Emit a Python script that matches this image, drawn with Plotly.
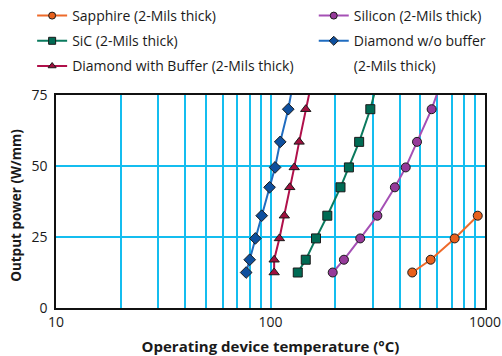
import plotly.graph_objects as go

power = [12.5, 17, 24.5, 32.5, 42.5, 49.5, 58.5, 70, 80]
sapphire_power = [12.5, 17, 24.5, 32.5]

temp_sapphire = [458, 558, 722, 925]
temp_silicon = [195, 220, 262, 315, 380, 427, 482, 564, 628]
temp_sic = [134, 146, 163, 184, 212, 232, 259, 292, 316]
temp_diamond_wo = [77, 80, 85, 91, 99, 105, 111, 121, 128]
temp_diamond_buf = [104, 104, 110, 116, 123, 129, 136, 146, 156]

names = {
    "sapphire": "Sapphire (2-Mils thick)",
    "silicon": "Silicon (2-Mils thick)",
    "sic": "SiC (2-Mils thick)",
    "dwo": "Diamond w/o buffer",
    "dwo2": "(2-Mils thick)",
    "dbuf": "Diamond with Buffer (2-Mils thick)",
}

FONT = "Open Sans"
GRID = "#14BDEF"

fig = go.Figure()

def add(x, y, name, line_color, marker_color, symbol, legend, group):
    # data trace
    fig.add_trace(go.Scatter(
        x=x, y=y, name=name, mode="lines+markers",
        line=dict(color=line_color, width=2),
        marker=dict(color=marker_color, symbol=symbol, size=9,
                    line=dict(color="#1a1a1a", width=1)),
        showlegend=False, legendgroup=group,
    ))
    # legend entry (smaller symbol, as in the reference key)
    fig.add_trace(go.Scatter(
        x=[None], y=[None], name=name, mode="lines+markers",
        line=dict(color=line_color, width=2),
        marker=dict(color=marker_color, symbol=symbol, size=7,
                    line=dict(color="#1a1a1a", width=1)),
        legend=legend, legendgroup=group, hoverinfo="skip",
    ))

add(temp_sapphire, sapphire_power, names["sapphire"], "#EE6A2A", "#E8601C", "circle", "legend", "a")
add(temp_sic, power, names["sic"], "#0A7A5E", "#006B54", "square", "legend", "b")
add(temp_diamond_buf, power, names["dbuf"], "#B0104A", "#A0103E", "triangle-up", "legend", "c")
add(temp_silicon, power, names["silicon"], "#A550B5", "#963A9A", "circle", "legend2", "d")
add(temp_diamond_wo, power, names["dwo"], "#1F6CC0", "#0E4F9E", "diamond", "legend2", "e")
# continuation line of the wrapped legend label (no visible symbol)
fig.add_trace(go.Scatter(x=[None], y=[None], name=names["dwo2"], mode="lines",
                         line=dict(color="rgba(0,0,0,0)", width=0),
                         legend="legend2", legendgroup="e2", hoverinfo="skip"))

leg_common = dict(xref="container", yref="container", y=1.0,
                  xanchor="left", yanchor="top", tracegroupgap=4,
                  itemsizing="trace", font=dict(size=14),
                  bgcolor="rgba(0,0,0,0)")

fig.update_layout(
    width=502, height=356,
    margin=dict(l=56, r=17, t=95, b=48, autoexpand=False),
    paper_bgcolor="white", plot_bgcolor="white",
    font=dict(family=FONT, size=14, color="#1a1a1a"),
    showlegend=True,
    legend=dict(x=0.064, **leg_common),
    legend2=dict(x=0.625, **leg_common),
    annotations=[dict(text="<b>Output power (W/mm)</b>", xref="paper", yref="paper",
                      x=-0.093, y=0.48, xanchor="center", yanchor="middle",
                      textangle=-90, showarrow=False, font=dict(size=13.5))],
)

fig.update_xaxes(
    type="log", range=[1, 3],
    tickvals=[10, 100, 1000], ticktext=["10", "100", "1000"],
    showgrid=True, gridcolor=GRID, gridwidth=1.7,
    minor=dict(tickvals=[20, 30, 40, 50, 60, 70, 80, 90, 200, 300, 400, 500, 600, 700, 800, 900],
               showgrid=True, gridcolor=GRID, gridwidth=1.7, ticks=""),
    showline=True, linecolor="#111", linewidth=1.5, mirror=True,
    ticks="", zeroline=False, automargin=False,
    title=dict(text="<b>Operating device temperature (°C)</b>", font=dict(size=15)),
    tickfont=dict(size=14),
)
fig.update_yaxes(
    range=[0, 75], tickvals=[0, 25, 50, 75],
    showgrid=True, gridcolor=GRID, gridwidth=1.7,
    showline=True, linecolor="#111", linewidth=1.5, mirror=True,
    ticks="", zeroline=False, ticklabelstandoff=4, automargin=False,
    tickfont=dict(size=14),
)

fig.write_html("out.html")
